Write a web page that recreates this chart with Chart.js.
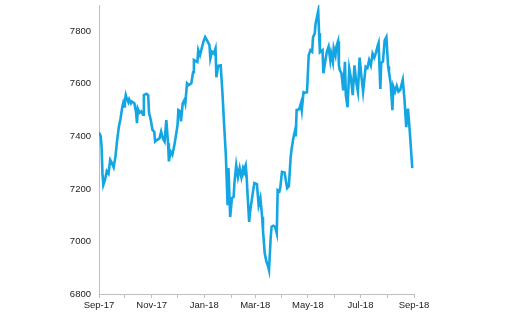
<!DOCTYPE html>
<html>
<head>
    <title>Index</title>
    <script src="https://cdn.jsdelivr.net/npm/chart.js"></script>
    <style>
        html, body { margin: 0; padding: 0; background: #fff; }
        #wrap { width: 512px; height: 320px; }
    </style>
</head>
<body>
    <div id="wrap"><canvas id="grafico"></canvas></div>

    <script>
        // fechas de cada punto
        var fechas = [
            '2017-09-01','2017-09-03','2017-09-04','2017-09-05','2017-09-06','2017-09-08','2017-09-10','2017-09-12',
            '2017-09-14','2017-09-16','2017-09-18','2017-09-20','2017-09-22','2017-09-24','2017-09-26','2017-09-28',
            '2017-09-29','2017-09-30','2017-10-01','2017-10-02','2017-10-03','2017-10-05','2017-10-06','2017-10-08',
            '2017-10-09','2017-10-12','2017-10-14','2017-10-15','2017-10-16','2017-10-18','2017-10-20','2017-10-22',
            '2017-10-23','2017-10-26','2017-10-28','2017-10-29','2017-10-31','2017-11-02','2017-11-04','2017-11-05',
            '2017-11-07','2017-11-10','2017-11-12','2017-11-14','2017-11-16','2017-11-18','2017-11-20','2017-11-21',
            '2017-11-23','2017-11-25','2017-11-27','2017-11-29','2017-12-01','2017-12-02','2017-12-04','2017-12-05',
            '2017-12-07','2017-12-09','2017-12-10','2017-12-12','2017-12-14','2017-12-17','2017-12-19','2017-12-20',
            '2017-12-22','2017-12-24','2017-12-25','2017-12-27','2017-12-29','2017-12-31','2018-01-02','2018-01-04',
            '2018-01-07','2018-01-08','2018-01-10','2018-01-12','2018-01-14','2018-01-15','2018-01-17','2018-01-20',
            '2018-01-22','2018-01-24','2018-01-26','2018-01-28','2018-01-29','2018-01-31','2018-02-02','2018-02-04',
            '2018-02-05','2018-02-07','2018-02-09','2018-02-11','2018-02-13','2018-02-15','2018-02-16','2018-02-18',
            '2018-02-19','2018-02-20','2018-02-22','2018-02-23','2018-02-26','2018-02-28','2018-03-03','2018-03-05',
            '2018-03-07','2018-03-09','2018-03-10','2018-03-12','2018-03-14','2018-03-16','2018-03-17','2018-03-19',
            '2018-03-20','2018-03-22','2018-03-24','2018-03-26','2018-03-27','2018-03-29','2018-03-30','2018-04-01',
            '2018-04-04','2018-04-07','2018-04-09','2018-04-11','2018-04-12','2018-04-14','2018-04-16','2018-04-17',
            '2018-04-18','2018-04-21','2018-04-23','2018-04-24','2018-04-26','2018-04-28','2018-04-30','2018-05-02',
            '2018-05-04','2018-05-06','2018-05-07','2018-05-09','2018-05-10','2018-05-13','2018-05-14','2018-05-15',
            '2018-05-18','2018-05-19','2018-05-21','2018-05-23','2018-05-25','2018-05-27','2018-05-28','2018-05-30',
            '2018-05-31','2018-06-02','2018-06-03','2018-06-05','2018-06-06','2018-06-07','2018-06-09','2018-06-11',
            '2018-06-13','2018-06-14','2018-06-16','2018-06-18','2018-06-20','2018-06-22','2018-06-24','2018-06-26',
            '2018-06-28','2018-06-30','2018-07-02','2018-07-04','2018-07-07','2018-07-09','2018-07-11','2018-07-13',
            '2018-07-15','2018-07-17','2018-07-19','2018-07-21','2018-07-22','2018-07-24','2018-07-25','2018-07-27',
            '2018-07-29','2018-07-31','2018-08-02','2018-08-03','2018-08-05','2018-08-07','2018-08-08','2018-08-10',
            '2018-08-12','2018-08-14','2018-08-16','2018-08-19','2018-08-21','2018-08-23','2018-08-25','2018-08-27',
            '2018-08-30'
        ];

        // valores del indice
        var valores = [
            7415, 7400, 7360, 7260, 7215, 7235, 7268, 7258,
            7310, 7298, 7282, 7322, 7385, 7436, 7469, 7512,
            7526, 7514, 7537, 7557, 7545, 7530, 7541, 7526,
            7532, 7526, 7490, 7450, 7505, 7490, 7495, 7482,
            7557, 7562, 7557, 7490, 7462, 7424, 7418, 7380,
            7386, 7392, 7418, 7392, 7380, 7462, 7374, 7305,
            7342, 7330, 7360, 7400, 7443, 7500, 7495, 7457,
            7526, 7539, 7526, 7602, 7595, 7602, 7644, 7690,
            7686, 7683, 7728, 7709, 7735, 7760, 7778, 7766,
            7747, 7696, 7722, 7716, 7735, 7625, 7668, 7670,
            7568, 7443, 7328, 7138, 7279, 7093, 7165, 7170,
            7226, 7290, 7245, 7279, 7245, 7279, 7270, 7290,
            7252, 7188, 7074, 7112, 7180, 7222, 7218, 7138,
            7165, 7094, 7043, 6956, 6923, 6905, 6891, 7018,
            7056, 7060, 7056, 7031, 7195, 7190, 7203, 7265,
            7262, 7203, 7210, 7317, 7347, 7390, 7420, 7400,
            7500, 7503, 7526, 7500, 7568, 7566, 7568, 7709,
            7728, 7722, 7777, 7792, 7830, 7877, 7792, 7720,
            7728, 7640, 7683, 7722, 7741, 7690, 7716, 7683,
            7735, 7709, 7741, 7762, 7671, 7652, 7640, 7575,
            7684, 7557, 7511, 7658, 7620, 7557, 7670, 7608,
            7570, 7700, 7630, 7570, 7665, 7660, 7690, 7670,
            7715, 7700, 7720, 7745, 7755, 7580, 7680, 7685,
            7765, 7778, 7667, 7645, 7600, 7500, 7590, 7570,
            7592, 7570, 7576, 7615, 7540, 7435, 7506, 7424,
            7279
        ];

        // marcas del eje x (inicio de cada mes) y sus etiquetas
        var mesesTicks = ['2017-09-01','2017-10-01','2017-11-01','2017-12-01','2018-01-01','2018-02-01',
                          '2018-03-01','2018-04-01','2018-05-01','2018-06-01','2018-07-01','2018-08-01','2018-09-01'];
        var mesesEtiquetas = ['Sep-17','','Nov-17','','Jan-18','','Mar-18','','May-18','','Jul-18','','Sep-18'];

        var ejeYTicks = [6800, 7000, 7200, 7400, 7600, 7800];

        var inicio = Date.parse(mesesTicks[0]);
        function dias(f) { return (Date.parse(f) - inicio) / 86400000; }

        var puntos = fechas.map(function (f, i) { return { x: dias(f), y: valores[i] }; });
        var posTicks = mesesTicks.map(dias);

        var ctx = document.getElementById('grafico').getContext('2d');
        var grafico = new Chart(ctx, {
            type: 'line',
            data: {
                datasets: [{
                    data: puntos,
                    borderColor: '#13a6e3',
                    borderWidth: 2.6,
                    pointRadius: 0,
                    tension: 0,
                    fill: false
                }]
            },
            options: {
                responsive: true,
                maintainAspectRatio: false,
                animation: false,
                layout: { padding: { left: 0, right: 98, top: 5, bottom: 0 } },
                plugins: { legend: { display: false }, tooltip: { enabled: false } },
                scales: {
                    x: {
                        type: 'linear',
                        min: posTicks[0],
                        max: posTicks[posTicks.length - 1],
                        afterBuildTicks: function (s) {
                            s.ticks = posTicks.map(function (v) { return { value: v }; });
                        },
                        afterFit: function (s) { s.height = 26; },
                        grid: { drawOnChartArea: false, drawTicks: true, tickLength: 4, color: '#bfbfbf' },
                        border: { color: '#bfbfbf', width: 1 },
                        ticks: {
                            autoSkip: false,
                            maxRotation: 0,
                            padding: 2,
                            color: '#222',
                            font: { family: 'Liberation Sans', size: 9.5 },
                            callback: function (v, i) { return mesesEtiquetas[i]; }
                        }
                    },
                    y: {
                        min: 6800,
                        max: 7900,
                        afterBuildTicks: function (s) {
                            s.ticks = ejeYTicks.map(function (v) { return { value: v }; });
                        },
                        afterFit: function (s) {
                            s.width = 99;
                            s.paddingTop = 0;
                            s.paddingBottom = 0;
                        },
                        grid: { display: false, drawTicks: false },
                        border: { color: '#bfbfbf', width: 1 },
                        ticks: {
                            padding: 8,
                            color: '#222',
                            font: { family: 'Liberation Sans', size: 9.5 },
                            callback: function (v) { return String(v); }
                        }
                    }
                }
            }
        });
    </script>
</body>
</html>
